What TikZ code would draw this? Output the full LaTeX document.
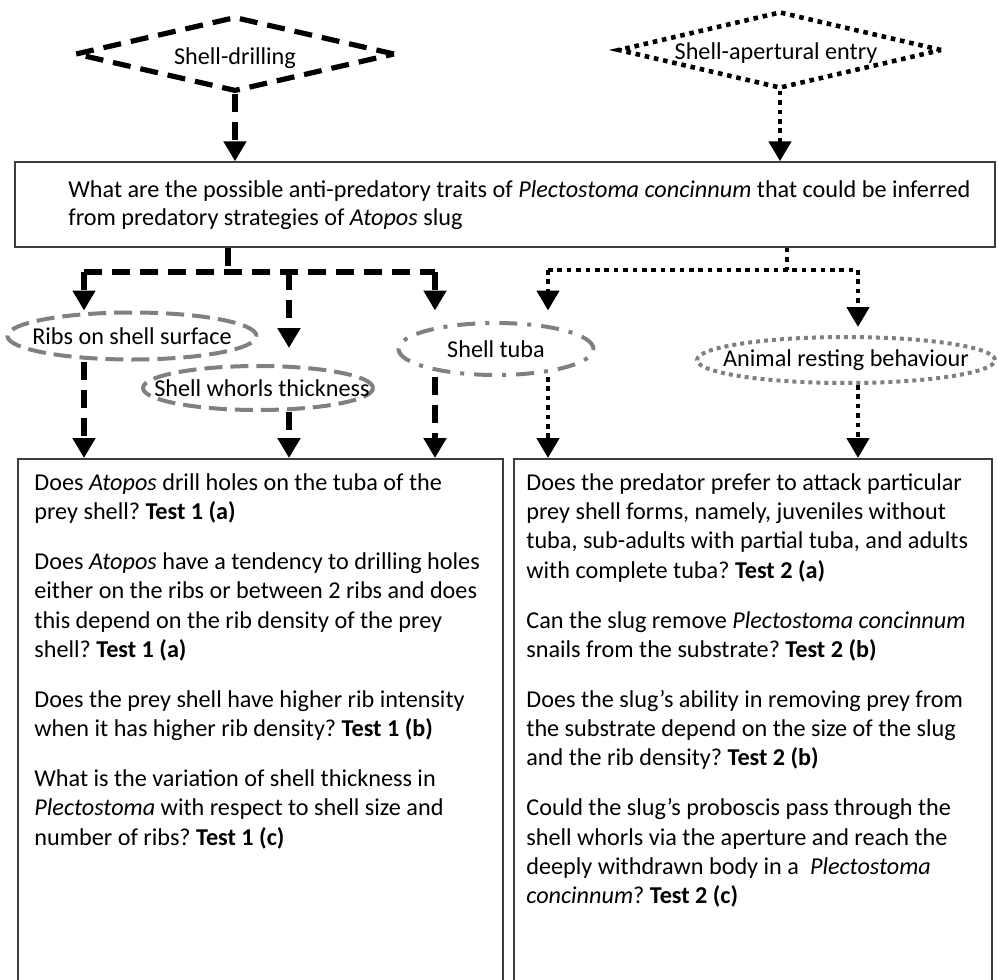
\documentclass[tikz,border=0pt]{standalone}
\usepackage{fontspec}
\setmainfont{Carlito}
\frenchspacing
\usetikzlibrary{shapes.geometric,arrows.meta}
\definecolor{traitgray}{RGB}{128,128,128}
\definecolor{boxline}{RGB}{60,60,60}
\tikzset{
  dsh/.style={line width=2.6pt,dash pattern=on 9pt off 5pt},
  dtt/.style={line width=2.3pt,dash pattern=on 2.3pt off 2.4pt},
  tip/.style={-{Triangle[width=11pt,length=10pt]}},
  strategy/.style={diamond,inner sep=0pt,minimum width=#1},
  trait/.style={ellipse,draw=traitgray,line width=2pt,inner sep=0pt},
  qbox/.style={draw=boxline,line width=0.75pt,inner sep=0pt},
  qtext/.style={align=left,inner sep=0pt,anchor=north west}
}

\begin{document}
\begin{tikzpicture}[x=0.5pt,y=-0.5pt,font=\fontsize{12.1}{14.65}\selectfont]
  \useasboundingbox (0,0) rectangle (998,980);
  \clip (0,0) rectangle (998,980);

  \node[strategy=160pt,minimum height=37.5pt,draw,dsh,label={[yshift=-2pt]center:Shell-drilling}] (drill) at (235,54) {};
  \node[strategy=162pt,minimum height=38.5pt,draw,dtt,label={[xshift=-2pt,yshift=-1.5pt]center:Shell-apertural entry}] (apert) at (780,50) {};

  \node[qbox,minimum width=490pt,minimum height=42.5pt] (main) at (505,204.5) {};
  \node[qtext,font=\fontsize{12.1}{13.9}\selectfont] (maintxt) at (68,180)
    {What are the possible anti-predatory traits of \emph{Plectostoma concinnum} that could be inferred\\
     from predatory strategies of \emph{Atopos} slug};

  \node[trait,dashed,dash pattern=on 9pt off 4pt,minimum width=124.5pt,minimum height=23.5pt,
        label={center:Ribs on shell surface}] (ribs) at (132,336) {};
  \node[trait,dash pattern=on 9pt off 4pt,minimum width=115pt,minimum height=22pt,
        label={[xshift=2pt]center:Shell whorls thickness}] (whorls) at (258,388) {};
  \node[trait,dash pattern=on 9pt off 5pt on 2pt off 5pt,minimum width=97.5pt,minimum height=26pt,
        label={center:Shell tuba}] (tuba) at (496,349) {};
  \node[trait,dash pattern=on 2pt off 2pt,minimum width=149pt,minimum height=23pt,
        label={center:Animal resting behaviour}] (animal) at (846,360) {};

  \node[qbox,anchor=north west,minimum width=242.5pt,minimum height=300pt] (qleft) at (17,458) {};
  \node[qbox,anchor=north west,minimum width=239pt,minimum height=300pt] (qright) at (513,458) {};

  \node[qtext] (lefttxt) at (34,473)
    {Does \emph{Atopos} drill holes on the tuba of the\\
     prey shell? \textbf{Test 1 (a)}\\[10.3pt]
     Does \emph{Atopos} have a tendency to drilling holes\\
     either on the ribs or between 2 ribs and does\\
     this depend on the rib density of the prey\\
     shell? \textbf{Test 1 (a)}\\[10.3pt]
     Does the prey shell have higher rib intensity\\
     when it has higher rib density? \textbf{Test 1 (b)}\\[10.3pt]
     What is the variation of shell thickness in\\
     \emph{Plectostoma} with respect to shell size and\\
     number of ribs? \textbf{Test 1 (c)}};
  \node[qtext] (righttxt) at (526,473)
    {Does the predator prefer to attack particular\\
     prey shell forms, namely, juveniles without\\
     tuba, sub-adults with partial tuba, and adults\\
     with complete tuba? \textbf{Test 2 (a)}\\[10.3pt]
     Can the slug remove \emph{Plectostoma concinnum}\\
     snails from the substrate? \textbf{Test 2 (b)}\\[10.3pt]
     Does the slug’s ability in removing prey from\\
     the substrate depend on the size of the slug\\
     and the rib density? \textbf{Test 2 (b)}\\[10.3pt]
     Could the slug’s proboscis pass through the\\
     shell whorls via the aperture and reach the\\
     deeply withdrawn body in a \ \emph{Plectostoma}\\
     \emph{concinnum}? \textbf{Test 2 (c)}};

  \coordinate (jl) at (228,272);
  \coordinate (jr) at (787,270);
  \coordinate (c1) at (84,272);
  \coordinate (c2) at (289,272);
  \coordinate (c3) at (435,272);
  \coordinate (c4) at (548,270);
  \coordinate (c5) at (858,270);

  \draw[dsh,tip] (drill.south) -- (drill.south |- main.north);
  \draw[dtt,tip] (apert.south) -- (apert.south |- main.north);

  \draw[dsh] (main.south -| jl) -- (jl) (c1) -- (c3);
  \draw[dtt] (main.south -| jr) -- (jr) (c4) -- (c5);

  \path[dsh,tip]
    (c1) edge (c1 |- ribs.north)
    (c2) edge[shorten >=8pt] (c2 |- whorls.north)
    (c3) edge (c3 |- ribs.north)
    (ribs.south -| c1) edge (c1 |- qleft.north)
    (whorls.south -| c2) edge (c2 |- qleft.north)
    (tuba.south -| c3) edge (c3 |- qleft.north);
  \path[dtt,tip]
    (c4) edge (c4 |- ribs.north)
    (c5) edge[shorten >=4pt] (c5 |- animal.north)
    (tuba.south -| c4) edge (c4 |- qright.north)
    (animal.south -| c5) edge (c5 |- qright.north);
\end{tikzpicture}
\end{document}
